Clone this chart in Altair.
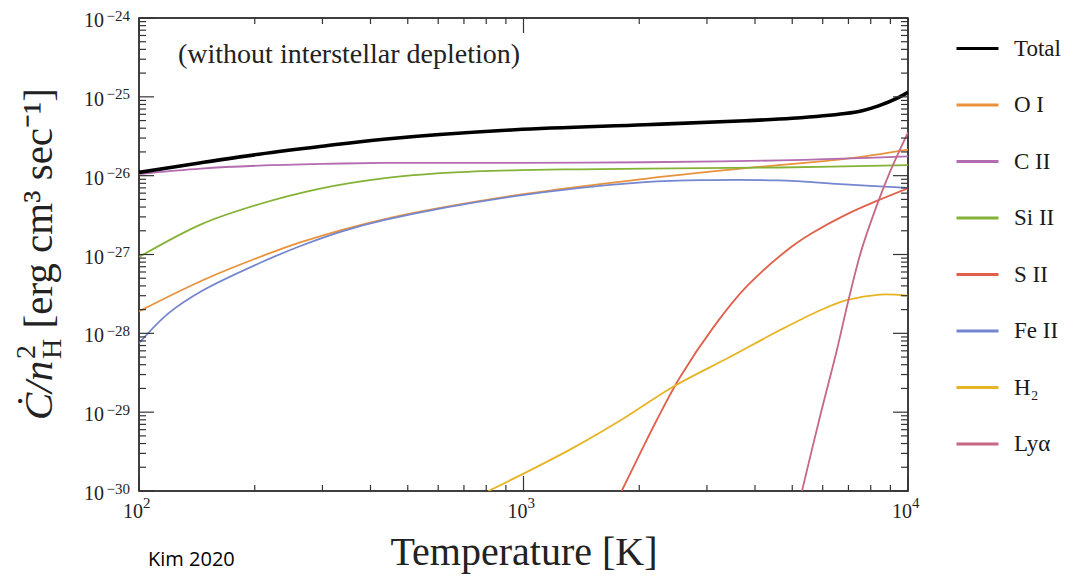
import altair as alt
import pandas as pd

SERIF = "Liberation Serif"

# ---------------- data ----------------
series_names = ["Total", "O I", "C II", "Si II", "S II", "Fe II", "H₂", "Lyα"]
series_colors = ["#000000", "#E8923C", "#B46CB0", "#84B236", "#E0604C",
                 "#7486D0", "#E6B424", "#C66784"]

T_total = [100, 145, 205, 299, 433, 950, 2070, 3770, 5000, 6860, 7600, 8380, 9440, 10000]
C_total = [1.10e-26, 1.46e-26, 1.87e-26, 2.36e-26, 2.90e-26, 3.82e-26,
           4.42e-26, 4.97e-26, 5.35e-26, 6.15e-26, 6.68e-26, 7.69e-26, 9.80e-26, 1.14e-25]

T_OI = [100, 146, 206, 265, 436, 950, 2070, 4000, 6860, 10000]
C_OI = [1.9e-28, 4.68e-28, 9.3e-28, 1.45e-27, 2.82e-27, 5.62e-27,
        9.12e-27, 1.28e-26, 1.63e-26, 2.14e-26]

T_CII = [100, 145, 205, 300, 435, 1000, 2070, 4640, 10000]
C_CII = [1.05e-26, 1.23e-26, 1.34e-26, 1.41e-26, 1.45e-26, 1.45e-26,
         1.48e-26, 1.56e-26, 1.76e-26]

T_SiII = [100, 146, 206, 292, 436, 643, 950, 1400, 2070, 4640, 10000]
C_SiII = [9.3e-28, 2.45e-27, 4.37e-27, 6.76e-27, 9.29e-27, 1.09e-26,
          1.17e-26, 1.205e-26, 1.23e-26, 1.27e-26, 1.36e-26]

T_SII = [1800, 2010, 2220, 2550, 3120, 3800, 4930, 5620, 6860, 8380, 10000]
C_SII = [1.0e-30, 3.0e-30, 7.9e-30, 2.75e-29, 1.2e-28, 3.9e-28, 1.21e-27,
         1.86e-27, 3.16e-27, 4.89e-27, 6.93e-27]

T_FeII = [100, 119, 146, 206, 265, 339, 436, 950, 2070, 3080, 4600, 6860, 10000]
C_FeII = [7.5e-29, 1.78e-28, 3.47e-28, 7.8e-28, 1.30e-27, 1.98e-27, 2.75e-27,
          5.5e-27, 8.3e-27, 8.8e-27, 8.7e-27, 7.76e-27, 7.0e-27]

T_H2 = [810, 1000, 1350, 1820, 2450, 3440, 4650, 5900, 6920, 8450, 10000]
C_H2 = [1.0e-30, 1.66e-30, 3.55e-30, 8.3e-30, 2.1e-29, 5.0e-29, 1.1e-28,
        1.95e-28, 2.63e-28, 3.1e-28, 3.0e-28]

T_Lya = [5300, 5900, 6530, 7000, 7560, 8380, 9000, 10000]
C_Lya = [1.0e-30, 8.7e-30, 6.1e-29, 2.63e-28, 1.12e-27, 4.79e-27,
         1.15e-26, 3.55e-26]

y_major = [1e-30, 1e-29, 1e-28, 1e-27, 1e-26, 1e-25, 1e-24]
y_exp = ["−30", "−29", "−28", "−27", "−26", "−25", "−24"]
y_minor = [k * 10.0 ** e for e in range(-30, -24) for k in range(2, 10)]
x_major = [100, 1000, 10000]
x_exp = ["2", "3", "4"]
x_minor = [k * 10.0 ** e for e in range(2, 4) for k in range(2, 10)]

# ---------------- build table ----------------
rows = []
for name, Ts, Cs in [("O I", T_OI, C_OI), ("C II", T_CII, C_CII),
                     ("Si II", T_SiII, C_SiII), ("S II", T_SII, C_SII),
                     ("Fe II", T_FeII, C_FeII), ("H₂", T_H2, C_H2),
                     ("Lyα", T_Lya, C_Lya), ("Total", T_total, C_total)]:
    for t, c in zip(Ts, Cs):
        rows.append({"series": name, "T": t, "C": c})
df = pd.DataFrame(rows)

W, H = 769, 473
PAD_TOP = 10
xs = alt.Scale(type="log", domain=[100, 10000], nice=False)
ys = alt.Scale(type="log", domain=[1e-30, 1e-24], nice=False)

lines = alt.Chart(df).mark_line(interpolate="catmull-rom", clip=True).encode(
    x=alt.X("T:Q", scale=xs, axis=None),
    y=alt.Y("C:Q", scale=ys, axis=None),
    color=alt.Color("series:N", sort=series_names,
                    scale=alt.Scale(domain=series_names, range=series_colors),
                    legend=alt.Legend(title=None, orient="none", legendX=816, legendY=8,
                                      symbolType="stroke", symbolSize=1764,
                                      symbolStrokeWidth=3, labelFont=SERIF,
                                      labelFontSize=23, labelColor="#1a1a1a",
                                      rowPadding=21.5, labelOffset=14, padding=0,
                                      labelLimit=200)),
    strokeWidth=alt.condition(alt.datum.series == "Total", alt.value(3.6), alt.value(1.8)),
)

TICK = "#333333"


def yticks(vals, length, side):
    d = pd.DataFrame({"v": vals})
    if side == "left":
        xa, xb = 0, length
    else:
        xa, xb = W, W - length
    return alt.Chart(d).mark_rule(color=TICK, strokeWidth=1.2).encode(
        y=alt.Y("v:Q", scale=ys, axis=None), x=alt.value(xa), x2=alt.value(xb))


def xticks(vals, length, side):
    d = pd.DataFrame({"v": vals})
    if side == "bottom":
        ya, yb = H, H - length
    else:
        ya, yb = 0, length
    return alt.Chart(d).mark_rule(color=TICK, strokeWidth=1.2).encode(
        x=alt.X("v:Q", scale=xs, axis=None), y=alt.value(ya), y2=alt.value(yb))


ticks = [yticks(y_major, 15, "left"), yticks(y_minor, 7, "left"),
         yticks(y_major, 15, "right"), yticks(y_minor, 7, "right"),
         xticks(x_major, 15, "bottom"), xticks(x_minor, 6, "bottom"),
         xticks(x_major, 15, "top"), xticks(x_minor, 6, "top")]

ylab_df = pd.DataFrame({"v": y_major, "exp": y_exp})
ylab_base = alt.Chart(ylab_df).mark_text(align="right", baseline="middle", font=SERIF,
                                         fontSize=20, dy=3, color="#222").encode(
    y=alt.Y("v:Q", scale=ys, axis=None), x=alt.value(-35), text=alt.value("10"))
ylab_exp = alt.Chart(ylab_df).mark_text(align="right", baseline="middle", font=SERIF,
                                        fontSize=15, dy=-2.5, color="#222").encode(
    y=alt.Y("v:Q", scale=ys, axis=None), x=alt.value(-9), text="exp:N")

xlab_df = pd.DataFrame({"v": x_major, "exp": x_exp})
xlab_base = alt.Chart(xlab_df).mark_text(align="right", baseline="middle", font=SERIF,
                                         fontSize=20, dx=4, color="#222").encode(
    x=alt.X("v:Q", scale=xs, axis=None), y=alt.value(H + 21), text=alt.value("10"))
xlab_exp = alt.Chart(xlab_df).mark_text(align="left", baseline="middle", font=SERIF,
                                        fontSize=15, dx=4, color="#222").encode(
    x=alt.X("v:Q", scale=xs, axis=None), y=alt.value(H + 12), text="exp:N")

one = pd.DataFrame({"a": [0]})


def label(txt, x, y, **kw):
    return alt.Chart(one).mark_text(text=txt, **kw).encode(x=alt.value(x), y=alt.value(y))


texts = [
    label("(without interstellar depletion)", 39, 37, align="left", baseline="middle",
          font=SERIF, fontSize=28, color="#222"),
    label("Temperature [K]", 385, 547, align="center", baseline="alphabetic",
          font=SERIF, fontSize=40, color="#222"),
    label("Kim 2020", 9, 542, align="left", baseline="middle",
          font="Open Sans", fontSize=20, color="#000"),
    # y-axis title pieces (rotated)
    label("Ċ/n", -87, 402, align="left", baseline="alphabetic", angle=270,
          font=SERIF, fontSize=41, fontStyle="italic", color="#222"),
    label("2", -104, 341, align="left", baseline="alphabetic", angle=270,
          font=SERIF, fontSize=28, color="#222"),
    label("H", -78, 341, align="left", baseline="alphabetic", angle=270,
          font=SERIF, fontSize=28, color="#222"),
    label("[erg cm³ sec⁻¹]", -87, 70, align="right", baseline="alphabetic", angle=270,
          font=SERIF, fontSize=41, color="#222"),
]

chart = alt.layer(lines, *ticks, ylab_base, ylab_exp, xlab_base, xlab_exp, *texts).properties(
    width=W, height=H,
    padding={"left": 131, "top": PAD_TOP, "right": 159, "bottom": 83},
    autosize=alt.AutoSizeParams(type="none"),
).configure_view(stroke="black", strokeWidth=1.5)

chart.save("out.html", embed_options={"renderer": "svg", "actions": False})
